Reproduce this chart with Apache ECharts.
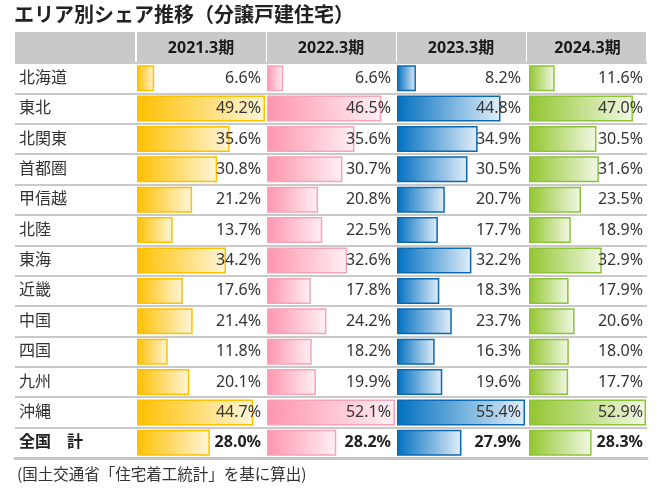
<!DOCTYPE html>
<html><head><meta charset="utf-8">
<script src="https://cdn.jsdelivr.net/npm/echarts@6/dist/echarts.min.js"></script>
<style>html,body{margin:0;padding:0;background:#fff}#c{width:662px;height:490px}</style>
</head><body><div id="c"></div>
<script>
const title = 'エリア別シェア推移（分譲戸建住宅）';
const footnote = '(国土交通省「住宅着工統計」を基に算出)';
const areas = ['北海道','東北','北関東','首都圏','甲信越','北陸','東海','近畿','中国','四国','九州','沖縄','全国　計'];
const periods = ['2021.3期','2022.3期','2023.3期','2024.3期'];
const v2021 = [6.6,49.2,35.6,30.8,21.2,13.7,34.2,17.6,21.4,11.8,20.1,44.7,28.0];
const v2022 = [6.6,46.5,35.6,30.7,20.8,22.5,32.6,17.8,24.2,18.2,19.9,52.1,28.2];
const v2023 = [8.2,44.8,34.9,30.5,20.7,17.7,32.2,18.3,23.7,16.3,19.6,55.4,27.9];
const v2024 = [11.6,47.0,30.5,31.6,23.5,18.9,32.9,17.9,20.6,18.0,17.7,52.9,28.3];
const values = [v2021, v2022, v2023, v2024];

const FONT = '"Noto Sans","Noto Sans CJK JP",sans-serif';
const TOP = 63, H = 395;
const cols = [{left:137,width:128},{left:267,width:128},{left:397,width:128},{left:529,width:117}];
const palette = [
  {c0:'#FFC000', c1:'#FFF6DC', border:'#FFC000'},
  {c0:'#FF94AE', c1:'#FFF1F4', border:'#F7A3B8'},
  {c0:'#0070C0', c1:'#E3EEF9', border:'#0A6AB6'},
  {c0:'#92C62E', c1:'#F2F8E6', border:'#8DC43A'}
];
const LAST = areas.length - 1;

const grids = [{left:15, right:15, top:TOP, height:H}];
const xAxes = [{gridIndex:0, type:'value', show:true, position:'bottom', min:0, max:1,
  axisLine:{show:true, lineStyle:{color:'#C6C6C6', width:3}}, axisTick:{show:false}, axisLabel:{show:false}, splitLine:{show:false}}];
const yAxes = [{gridIndex:0, type:'category', data:areas, inverse:true,
  axisLine:{show:false}, axisTick:{show:false},
  splitLine:{show:true, interval:0, lineStyle:{color:'#C9C9C9', width:2}},
  axisLabel:{inside:true, margin:4, interval:0, color:'#333', fontSize:16, fontFamily:FONT,
    formatter:(v, i) => i === LAST ? '{b|' + v + '}' : v,
    rich:{b:{fontWeight:'bold', fontSize:16, color:'#222', fontFamily:FONT}}}}];
const series = [];
const graphics = [];

// header backgrounds
const headerCells = [[15,135]].concat(cols.map((c,i)=>[c.left - (i===3?2:0), c.left + c.width + (i===3?0:1)]));
headerCells.forEach(([a,b]) => graphics.push({type:'rect', shape:{x:a, y:32, width:b-a, height:TOP-32}, style:{fill:'#C9C9C9'}, z:-1}));

cols.forEach((c, i) => {
  const gi = i + 1;
  const vals = values[i];
  const mx = Math.max(...vals);
  grids.push({left:c.left, width:c.width, top:TOP, height:H});
  xAxes.push({gridIndex:gi, type:'value', min:0, max:mx, position:'top',
    name:periods[i], nameLocation:'middle', nameGap:7,
    nameTextStyle:{fontSize:16, fontWeight:'bold', color:'#1a1a1a', fontFamily:FONT},
    axisLine:{show:false}, axisTick:{show:false}, axisLabel:{show:false}, splitLine:{show:false}});
  yAxes.push({gridIndex:gi, type:'category', data:areas, inverse:true, show:false});
  const p = palette[i];
  series.push({type:'bar', xAxisIndex:gi, yAxisIndex:gi, barWidth:26, z:2, silent:true,
    data:vals,
    itemStyle:{color:new echarts.graphic.LinearGradient(0,0,1,0,[{offset:0,color:p.c0},{offset:1,color:p.c1}]),
      borderColor:p.border, borderWidth:1.5}});
  series.push({type:'bar', xAxisIndex:gi, yAxisIndex:gi, barWidth:26, barGap:'-100%', z:5, silent:true,
    data:vals.map((v, k) => ({value:mx, label:{fontWeight: k === LAST ? 'bold' : 'normal', color: k === LAST ? '#222' : '#333'}})),
    itemStyle:{color:'rgba(0,0,0,0)'},
    label:{show:true, position:'insideRight', distance: i === 3 ? 3 : 4, fontSize:16, fontFamily:FONT,
      formatter: prm => vals[prm.dataIndex].toFixed(1) + '%'}});
});

graphics.push({type:'text', left:14, top:4, style:{text:title, fill:'#222', font:'bold 20px "Noto Sans CJK JP",sans-serif'}});
graphics.push({type:'text', left:17, top:466, style:{text:footnote, fill:'#333', font:'15.5px "Noto Sans CJK JP",sans-serif'}});

const chart = echarts.init(document.getElementById('c'), null, {renderer:'canvas'});
chart.setOption({animation:false, backgroundColor:'#fff', grid:grids, xAxis:xAxes, yAxis:yAxes, series, graphic:graphics});
</script></body></html>
